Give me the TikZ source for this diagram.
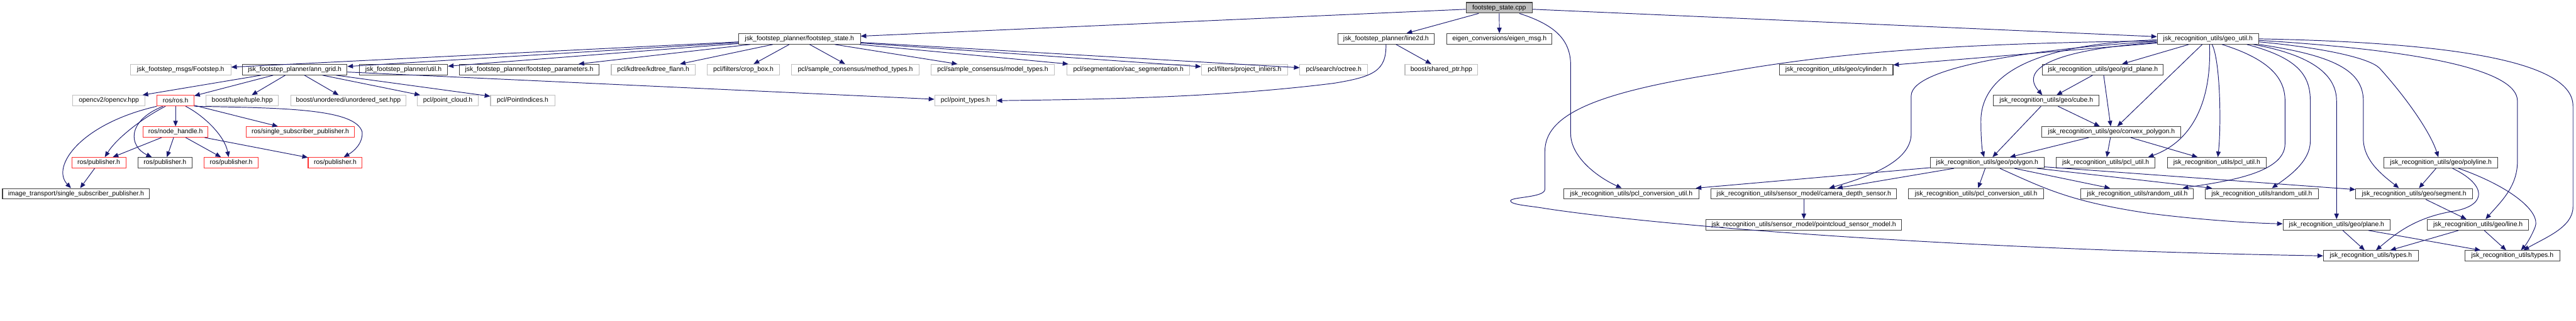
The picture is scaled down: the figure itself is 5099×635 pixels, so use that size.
\documentclass[tikz,border=0pt]{standalone}
\usepackage{fontspec}
\setmainfont{Liberation Sans}
\usetikzlibrary{arrows.meta}

\definecolor{edgeblue}{HTML}{191970}
\definecolor{extgray}{HTML}{BFBFBF}
\definecolor{truncred}{HTML}{FF3030}

\tikzset{
  filebox/.style={rectangle, draw=black!75, line width=1.3pt, minimum height=21pt, inner xsep=1pt, inner ysep=0pt, font=\fontsize{13}{15}\selectfont},
  extbox/.style={filebox, draw=extgray},
  truncbox/.style={filebox, draw=truncred},
  rootbox/.style={filebox, fill=extgray},
  dep/.style={draw=edgeblue, line width=1.2pt, -{Triangle[length=11pt,width=9pt]}}
}

\begin{document}
\begin{tikzpicture}[x=1pt, y=-1pt]
      \useasboundingbox (0,0) rectangle (5099,635);

      % Root file
      \node[rootbox, minimum width=131] (cpp) at (2967.5,15.5) {footstep\_state.cpp};

      % Row 1
      \node[filebox, minimum width=241] (fstate) at (1582.5,77) {jsk\_footstep\_planner/footstep\_state.h};
      \node[filebox, minimum width=191] (line2d) at (2743.5,77) {jsk\_footstep\_planner/line2d.h};
      \node[filebox, minimum width=208] (eigenmsg) at (2968,77) {eigen\_conversions/eigen\_msg.h};
      \node[filebox, minimum width=201] (geoutil) at (4370.5,77) {jsk\_recognition\_utils/geo\_util.h};

      % Row 2
      \node[extbox, minimum width=199] (fsmsg) at (357.5,138) {jsk\_footstep\_msgs/Footstep.h};
      \node[filebox, minimum width=207] (anngrid) at (583.5,138) {jsk\_footstep\_planner/ann\_grid.h};
      \node[filebox, minimum width=175] (util) at (798.5,138) {jsk\_footstep\_planner/util.h};
      \node[filebox, minimum width=277] (fsparam) at (1047.5,138) {jsk\_footstep\_planner/footstep\_parameters.h};
      \node[extbox, minimum width=166] (kdtree) at (1293,138) {pcl/kdtree/kdtree\_flann.h};
      \node[extbox, minimum width=143] (cropbox) at (1471.5,138) {pcl/filters/crop\_box.h};
      \node[extbox, minimum width=252] (method) at (1693,138) {pcl/sample\_consensus/method\_types.h};
      \node[extbox, minimum width=244] (model) at (1965,138) {pcl/sample\_consensus/model\_types.h};
      \node[extbox, minimum width=243] (sacseg) at (2233.5,138) {pcl/segmentation/sac\_segmentation.h};
      \node[extbox, minimum width=171] (projinl) at (2463.5,138) {pcl/filters/project\_inliers.h};
      \node[extbox, minimum width=134] (octree) at (2640,138) {pcl/search/octree.h};
      \node[extbox, minimum width=144] (sharedptr) at (2853,138) {boost/shared\_ptr.hpp};
      \node[filebox, minimum width=225] (cylinder) at (3634.5,138) {jsk\_recognition\_utils/geo/cylinder.h};
      \node[filebox, minimum width=239] (gridplane) at (4162.5,138) {jsk\_recognition\_utils/geo/grid\_plane.h};

      % Row 3
      \node[extbox, minimum width=143] (opencv) at (215.5,199.5) {opencv2/opencv.hpp};
      \node[truncbox, minimum width=73] (rosh) at (347.5,199.5) {ros/ros.h};
      \node[extbox, minimum width=143] (tuple) at (479.5,199.5) {boost/tuple/tuple.hpp};
      \node[extbox, minimum width=227] (unordset) at (689.5,199.5) {boost/unordered/unordered\_set.hpp};
      \node[extbox, minimum width=121] (ptcloud) at (886.5,199.5) {pcl/point\_cloud.h};
      \node[extbox, minimum width=127] (ptindices) at (1034.5,199.5) {pcl/PointIndices.h};
      \node[extbox, minimum width=122] (pttypes) at (1911,199.5) {pcl/point\_types.h};
      \node[filebox, minimum width=209] (cube) at (4050.5,199.5) {jsk\_recognition\_utils/geo/cube.h};

      % Row 4
      \node[truncbox, minimum width=129] (nodehandle) at (347.5,261.5) {ros/node\_handle.h};
      \node[truncbox, minimum width=215] (rossspub) at (594.5,261.5) {ros/single\_subscriber\_publisher.h};
      \node[filebox, minimum width=275] (convex) at (4179.5,261.5) {jsk\_recognition\_utils/geo/convex\_polygon.h};

      % Row 5
      \node[truncbox, minimum width=107] (puba) at (195.5,322.5) {ros/publisher.h};
      \node[filebox, minimum width=107] (pubb) at (326.5,322.5) {ros/publisher.h};
      \node[truncbox, minimum width=107] (pubc) at (457.5,322.5) {ros/publisher.h};
      \node[truncbox, minimum width=107] (pubd) at (663.5,322.5) {ros/publisher.h};
      \node[filebox, minimum width=225] (polygon) at (3933.5,322.5) {jsk\_recognition\_utils/geo/polygon.h};
      \node[filebox, minimum width=196] (pclutila) at (4168,322.5) {jsk\_recognition\_utils/pcl\_util.h};
      \node[filebox, minimum width=196] (pclutilb) at (4388,322.5) {jsk\_recognition\_utils/pcl\_util.h};
      \node[filebox, minimum width=225] (polyline) at (4831.5,322.5) {jsk\_recognition\_utils/geo/polyline.h};

      % Row 6
      \node[filebox, minimum width=291] (imgssp) at (150.5,384) {image\_transport/single\_subscriber\_publisher.h};
      \node[filebox, minimum width=268] (pclconva) at (3229,384) {jsk\_recognition\_utils/pcl\_conversion\_util.h};
      \node[filebox, minimum width=367] (camdepth) at (3570.5,384) {jsk\_recognition\_utils/sensor\_model/camera\_depth\_sensor.h};
      \node[filebox, minimum width=267] (pclconvb) at (3911.5,384) {jsk\_recognition\_utils/pcl\_conversion\_util.h};
      \node[filebox, minimum width=223] (randa) at (4230.5,384) {jsk\_recognition\_utils/random\_util.h};
      \node[filebox, minimum width=224] (randb) at (4477,384) {jsk\_recognition\_utils/random\_util.h};
      \node[filebox, minimum width=231] (segment) at (4778.5,384) {jsk\_recognition\_utils/geo/segment.h};

      % Row 7
      \node[filebox, minimum width=387] (pcsensor) at (3570.5,445.5) {jsk\_recognition\_utils/sensor\_model/pointcloud\_sensor\_model.h};
      \node[filebox, minimum width=212] (plane) at (4625,445.5) {jsk\_recognition\_utils/geo/plane.h};
      \node[filebox, minimum width=200] (line) at (4905,445.5) {jsk\_recognition\_utils/geo/line.h};

      % Row 8
      \node[filebox, minimum width=188] (typesa) at (4693,507) {jsk\_recognition\_utils/types.h};
      \node[filebox, minimum width=188] (typesb) at (4973,507) {jsk\_recognition\_utils/types.h};

      % Includes of footstep_state.cpp
      \draw[dep] (cpp) -- (fstate);
      \draw[dep] (cpp) -- (line2d);
      \draw[dep] (cpp) -- (eigenmsg);
      \draw[dep] (cpp) -- (geoutil);
      \draw[dep] ([xshift=40]cpp.south) .. controls (3080,50) and (3109,80) .. (3109,130) -- (3109,265) .. controls (3109,310) and (3160,350) .. ([xshift=-19]pclconva.north);

      % Includes of footstep_state.h
      \draw[dep] (fstate) -- (fsmsg);
      \draw[dep] (fstate) -- (anngrid);
      \draw[dep] (fstate) -- (util);
      \draw[dep] (fstate) -- (fsparam);
      \draw[dep] (fstate) -- (kdtree);
      \draw[dep] (fstate) -- (cropbox);
      \draw[dep] (fstate) -- (method);
      \draw[dep] (fstate) -- (model);
      \draw[dep] (fstate) -- (sacseg);
      \draw[dep] (fstate) -- (projinl);
      \draw[dep] (fstate) -- (octree);

      % Includes of ann_grid.h
      \draw[dep] (anngrid) -- (opencv);
      \draw[dep] (anngrid) -- (rosh);
      \draw[dep] (anngrid) -- (tuple);
      \draw[dep] (anngrid) -- (unordset);
      \draw[dep] (anngrid) -- (ptcloud);
      \draw[dep] (anngrid) -- (ptindices);
      \draw[dep] (anngrid) -- (pttypes);

      % Includes of line2d.h
      \draw[dep] (line2d) -- (sharedptr);
      \draw[dep] (line2d.south) .. controls (2744,140) and (2720,152) .. (2640,165) .. controls (2400,195) and (2150,197) .. (pttypes.east);

      % Includes of ros/ros.h
      \draw[dep] (rosh) -- (nodehandle);
      \draw[dep] (rosh) -- (rossspub);
      \draw[dep] (rosh.south west) .. controls (160,245) and (100,330) .. ([xshift=-10]imgssp.north);
      \draw[dep] ([xshift=-20]rosh.south) .. controls (280,235) and (230,275) .. ([xshift=12]puba.north);
      \draw[dep] ([xshift=-25]rosh.south) .. controls (250,240) and (255,290) .. ([xshift=-26]pubb.north);
      \draw[dep] ([xshift=20]rosh.south) .. controls (405,230) and (445,270) .. ([xshift=-5]pubc.north);
      \draw[dep] (rosh.south east) .. controls (560,214) and (705,215) .. (717,262) .. controls (718,285) and (700,300) .. ([xshift=17]pubd.north);

      % Includes of ros/node_handle.h
      \draw[dep] (nodehandle) -- (puba);
      \draw[dep] (nodehandle) -- (pubb);
      \draw[dep] (nodehandle) -- (pubc);
      \draw[dep] (nodehandle) -- (pubd);
      \draw[dep] (puba) -- (imgssp);

      % Includes of geo_util.h
      \draw[dep] (geoutil) -- (cylinder);
      \draw[dep] (geoutil) -- (gridplane);
      \draw[dep] (geoutil) -- (convex);
      \draw[dep] ([yshift=-4]geoutil.west) .. controls (3900,86) and (3650,100) .. (3400,146) .. controls (3150,185) and (3058,230) .. (3058,300) -- (3058,375) .. controls (3058,392) and (2990,390) .. (2990,398) .. controls (2990,406) and (3030,408) .. (3058,413) .. controls (3300,450) and (3900,495) .. (typesa.west);
      \draw[dep] ([yshift=-5]geoutil.west) .. controls (4050,95) and (3783,130) .. (3783,190) -- (3783,265) .. controls (3783,320) and (3700,350) .. ([xshift=50]camdepth.north);
      \draw[dep] ([yshift=-7]geoutil.west) .. controls (4050,100) and (4000,140) .. ([xshift=-8]cube.north);
      \draw[dep] ([yshift=-2]geoutil.west) .. controls (4000,88) and (3921,160) .. (3921,240) .. controls (3921,280) and (3924,300) .. ([xshift=-6]polygon.north);
      \draw[dep] ([xshift=3]geoutil.south) .. controls (4378,200) and (4340,280) .. ([xshift=84]pclutila.north);
      \draw[dep] ([xshift=8]geoutil.south) .. controls (4395,120) and (4397,250) .. ([xshift=2]pclutilb.north);
      \draw[dep] ([xshift=28]geoutil.south) .. controls (4500,120) and (4523,160) .. (4523,200) -- (4523,285) .. controls (4523,345) and (4400,360) .. ([xshift=90]randa.north);
      \draw[dep] ([xshift=77]geoutil.south) .. controls (4550,115) and (4573,150) .. (4573,200) -- (4573,280) .. controls (4573,320) and (4530,350) .. ([xshift=20]randb.north);
      \draw[dep] ([xshift=90]geoutil.south) .. controls (4580,110) and (4625,150) .. (4625,200) -- (plane.north);
      \draw[dep] (geoutil.south east) .. controls (4620,110) and (4678,140) .. (4678,200) -- (4678,275) .. controls (4678,320) and (4720,350) .. ([xshift=-30]segment.north);
      \draw[dep] ([yshift=-6]geoutil.east) .. controls (4600,95) and (4690,115) .. (4710,135) .. controls (4760,190) and (4810,260) .. ([xshift=-5]polyline.north);
      \draw[dep] ([yshift=-3]geoutil.east) .. controls (4800,100) and (4983,140) .. (4983,200) -- (4983,320) .. controls (4983,370) and (4950,400) .. ([xshift=15]line.north);
      \draw[dep] (geoutil.east) .. controls (4900,85) and (5093,130) .. (5093,210) -- (5093,410) .. controls (5093,450) and (5040,470) .. ([xshift=22]typesb.north);

      % Includes of the geo headers
      \draw[dep] (gridplane) -- (cube);
      \draw[dep] (gridplane) -- (convex);
      \draw[dep] (cube) -- (convex);
      \draw[dep] (cube) -- (polygon);
      \draw[dep] (convex) -- (polygon);
      \draw[dep] (convex) -- (pclutila);
      \draw[dep] (convex) -- (pclutilb);
      \draw[dep] (polygon) -- (pclconva);
      \draw[dep] (polygon) -- (camdepth);
      \draw[dep] (polygon) -- (pclconvb);
      \draw[dep] (polygon) -- (randa);
      \draw[dep] (polygon) -- (randb);
      \draw[dep] (polygon) -- (segment);
      \draw[dep] ([xshift=25]polygon.south) .. controls (4050,375) and (4100,400) .. (4255,423) .. controls (4350,435) and (4450,442) .. ([yshift=2]plane.west);
      \draw[dep] (camdepth) -- (pcsensor);
      \draw[dep] (polyline) -- (segment);
      \draw[dep] ([xshift=23]polyline.south) .. controls (4920,365) and (4925,405) .. (4860,418) .. controls (4780,430) and (4740,465) .. ([xshift=10]typesa.north);
      \draw[dep] ([xshift=35]polyline.south) .. controls (4970,370) and (5030,420) .. (5018,450) .. controls (5010,470) and (5000,485) .. ([xshift=17]typesb.north);
      \draw[dep] (segment) -- (line);
      \draw[dep] (plane) -- (typesa);
      \draw[dep] (plane) -- (typesb);
      \draw[dep] (line) -- (typesa);
      \draw[dep] (line) -- (typesb);
    \end{tikzpicture}
\end{document}
